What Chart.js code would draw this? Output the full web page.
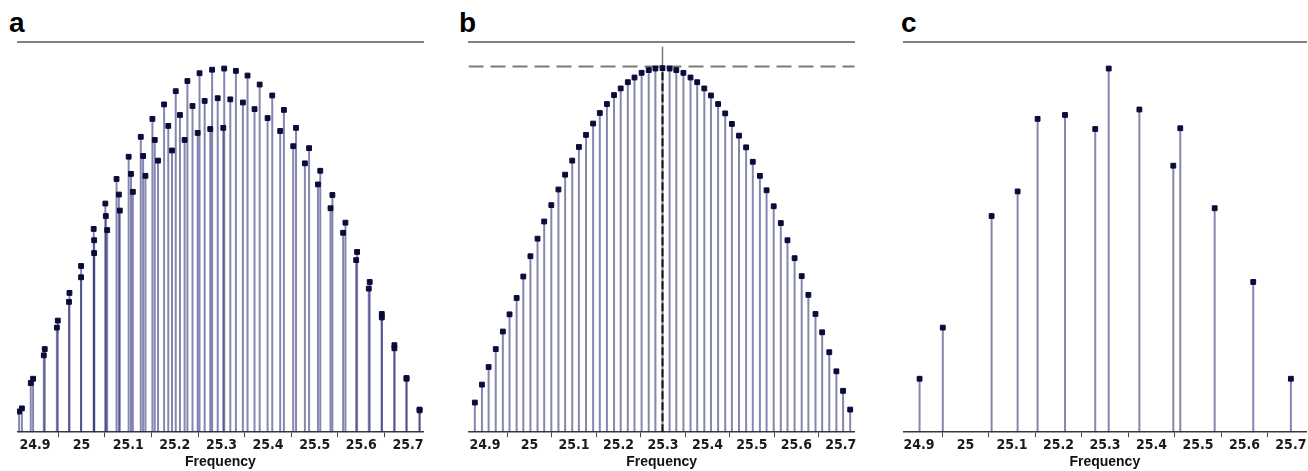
<!DOCTYPE html>
<html>
<head>
<meta charset="utf-8">
<title>Frequency stems</title>
<script src="https://cdn.jsdelivr.net/npm/chart.js@4.4.1/dist/chart.umd.min.js"></script>
<style>
    html, body { margin: 0; padding: 0; background: #fff; }
    body { width: 1308px; height: 471px; position: relative; overflow: hidden; }
    .panel { position: absolute; top: 0; height: 471px; }
    .letter { position: absolute; top: 9px; font: bold 28px 'Liberation Sans', Arial, sans-serif; line-height: 28px; color: #000; }
</style>
</head>
<body>
<div class="letter" style="left:9px">a</div>
<div class="letter" style="left:459px">b</div>
<div class="letter" style="left:901px">c</div>
<div class="panel" style="left:17px;width:408px"><canvas id="chartA" width="408" height="471"></canvas></div>
<div class="panel" style="left:468px;width:390px"><canvas id="chartB" width="390" height="471"></canvas></div>
<div class="panel" style="left:902px;width:406px"><canvas id="chartC" width="406" height="471"></canvas></div>
<script>
// panel a - three combs on top of each other
const freqA1 = [24.872, 24.896, 24.921, 24.949, 24.974, 24.999, 25.026, 25.051, 25.075, 25.101, 25.127, 25.152, 25.177, 25.202, 25.227, 25.253, 25.280,
    25.306, 25.331, 25.356, 25.382, 25.409, 25.434, 25.460, 25.488, 25.512, 25.538, 25.566, 25.591, 25.618, 25.644, 25.671, 25.697, 25.725];
const ampA1 = [0.061, 0.137, 0.213, 0.286, 0.357, 0.426, 0.521, 0.586, 0.649, 0.706, 0.757, 0.803, 0.840, 0.874, 0.900, 0.920, 0.929,
    0.932, 0.926, 0.914, 0.891, 0.863, 0.826, 0.780, 0.728, 0.670, 0.608, 0.537, 0.462, 0.385, 0.303, 0.223, 0.139, 0.058];

const freqA2 = [24.866, 24.891, 24.919, 24.947, 24.973, 24.999, 25.027, 25.052, 25.080, 25.106, 25.132, 25.157, 25.186, 25.211, 25.238, 25.264, 25.292,
    25.319, 25.346, 25.371, 25.399, 25.426, 25.454, 25.479, 25.507, 25.534, 25.561, 25.589, 25.616, 25.644, 25.671, 25.697, 25.725];
const ampA2 = [0.053, 0.126, 0.197, 0.268, 0.334, 0.397, 0.492, 0.554, 0.609, 0.662, 0.708, 0.749, 0.785, 0.813, 0.836, 0.849, 0.856,
    0.853, 0.845, 0.828, 0.805, 0.772, 0.733, 0.689, 0.635, 0.574, 0.511, 0.441, 0.368, 0.294, 0.215, 0.137, 0.056];

const freqA3 = [25.027, 25.055, 25.082, 25.110, 25.137, 25.164, 25.194, 25.221, 25.249, 25.276, 25.304];
const ampA3 = [0.459, 0.518, 0.568, 0.616, 0.657, 0.696, 0.722, 0.749, 0.767, 0.777, 0.780];

// panel b - single comb, peak marked
const freqB = [24.877, 24.893, 24.908, 24.924, 24.940, 24.955, 24.971, 24.986, 25.002, 25.018, 25.033, 25.049, 25.065, 25.080,
    25.096, 25.111, 25.127, 25.143, 25.158, 25.174, 25.190, 25.205, 25.221, 25.236, 25.252, 25.268, 25.283, 25.299,
    25.315, 25.330, 25.346, 25.362, 25.377, 25.393, 25.408, 25.424, 25.440, 25.455, 25.471, 25.487, 25.502, 25.518,
    25.533, 25.549, 25.565, 25.580, 25.596, 25.612, 25.627, 25.643, 25.658, 25.674, 25.690, 25.705, 25.721];
const ampB = [0.076, 0.122, 0.167, 0.213, 0.258, 0.302, 0.344, 0.399, 0.451, 0.496, 0.540, 0.582, 0.622, 0.660,
    0.696, 0.731, 0.762, 0.791, 0.818, 0.841, 0.864, 0.881, 0.897, 0.909, 0.921, 0.928, 0.932, 0.933,
    0.932, 0.928, 0.921, 0.909, 0.897, 0.881, 0.863, 0.841, 0.817, 0.790, 0.760, 0.730, 0.693, 0.657,
    0.620, 0.579, 0.536, 0.492, 0.446, 0.400, 0.352, 0.303, 0.256, 0.205, 0.156, 0.106, 0.058];
const peakFreqB = 25.299;
const peakLevelB = 0.937;
const cursorTopB = 0.988;

// panel c - sparse stems
const freqC = [24.901, 24.951, 25.056, 25.112, 25.155, 25.214, 25.279, 25.308, 25.374, 25.447, 25.462, 25.536, 25.619, 25.700];
const ampC = [0.137, 0.268, 0.554, 0.617, 0.803, 0.813, 0.777, 0.932, 0.827, 0.683, 0.779, 0.574, 0.385, 0.137];

const tickValues = [24.9, 25, 25.1, 25.2, 25.3, 25.4, 25.5, 25.6, 25.7];

const rangeA = [24.8615, 25.7342];
const rangeB = [24.8628, 25.7313];
const rangeC = [24.8665, 25.7326];

const STEM_COLOR = 'rgba(34, 36, 112, 0.55)';
const MARK_COLOR = '#0b0b3a';
const TICK_FONT = "'Liberation Sans Narrow', 'DejaVu Sans Condensed', 'Liberation Sans', Arial, sans-serif";

function pts(xs, ys) {
    return xs.map((x, i) => ({ x: x, y: ys[i] }));
}

function stems(xs, ys) {
    return {
        type: 'bar',
        data: pts(xs, ys),
        backgroundColor: STEM_COLOR,
        barThickness: 2,
        grouped: false,
        inflateAmount: 0,
        borderWidth: 0,
        order: 5
    };
}

function markers(xs, ys) {
    return {
        type: 'line',
        data: pts(xs, ys),
        showLine: false,
        pointStyle: 'rect',
        pointRadius: 3.4,
        pointBackgroundColor: MARK_COLOR,
        pointBorderColor: MARK_COLOR,
        pointBorderWidth: 1,
        clip: false,
        order: 1
    };
}

function makePanel(canvasId, range, datasets) {
    const ctx = document.getElementById(canvasId).getContext('2d');
    return new Chart(ctx, {
        type: 'bar',
        data: { datasets: datasets },
        options: {
            responsive: false,
            animation: false,
            devicePixelRatio: 1,
            events: [],
            layout: { autoPadding: false, padding: { top: 42, left: 0, right: 0, bottom: 0 } },
            plugins: {
                legend: { display: false },
                tooltip: { enabled: false }
            },
            scales: {
                x: {
                    type: 'linear',
                    position: 'bottom',
                    min: range[0],
                    max: range[1],
                    offset: false,
                    afterBuildTicks: axis => { axis.ticks = tickValues.map(v => ({ value: v })); },
                    grid: { display: true, drawOnChartArea: false, drawTicks: true, tickLength: 5, color: '#444', lineWidth: 1 },
                    border: { display: true, color: '#3a3a3a', width: 1.5 },
                    ticks: {
                        autoSkip: false,
                        maxRotation: 0,
                        minRotation: 0,
                        padding: 1.5,
                        color: '#1a1a1a',
                        font: { family: TICK_FONT, size: 14, weight: 'bold', lineHeight: 1 },
                        callback: v => String(Math.round(v * 10) / 10)
                    },
                    title: {
                        display: true,
                        text: 'Frequency',
                        color: '#111',
                        padding: { top: 0, bottom: 0 },
                        font: { family: "'Liberation Sans', Arial, sans-serif", size: 14, weight: 'bold', lineHeight: 1.2 }
                    }
                },
                xTop: {
                    type: 'linear',
                    position: 'top',
                    min: range[0],
                    max: range[1],
                    grid: { display: false, drawTicks: false },
                    ticks: { display: false },
                    border: { display: true, color: '#808080', width: 2 }
                },
                y: {
                    display: false,
                    min: 0,
                    max: 1
                }
            }
        }
    });
}

makePanel('chartA', rangeA, [
    stems(freqA1, ampA1),
    stems(freqA2, ampA2),
    stems(freqA3, ampA3),
    markers(freqA1, ampA1),
    markers(freqA2, ampA2),
    markers(freqA3, ampA3)
]);

makePanel('chartB', rangeB, [
    stems(freqB, ampB),
    markers(freqB, ampB),
    {   // level of the highest stem
        type: 'line',
        data: [{ x: rangeB[0], y: peakLevelB }, { x: rangeB[1], y: peakLevelB }],
        borderColor: '#7a7a7a',
        borderWidth: 2,
        borderDash: [15, 7],
        pointRadius: 0,
        order: 3
    },
    {   // dashed drop line through the peak
        type: 'line',
        data: [{ x: peakFreqB, y: 0 }, { x: peakFreqB, y: peakLevelB }],
        borderColor: '#111',
        borderWidth: 2,
        borderDash: [8, 3],
        pointRadius: 0,
        order: 3
    },
    {   // cursor above the peak
        type: 'line',
        data: [{ x: peakFreqB, y: peakLevelB }, { x: peakFreqB, y: cursorTopB }],
        borderColor: '#777',
        borderWidth: 1.5,
        pointRadius: 0,
        order: 3
    }
]);

makePanel('chartC', rangeC, [
    stems(freqC, ampC),
    markers(freqC, ampC)
]);
</script>
</body>
</html>
